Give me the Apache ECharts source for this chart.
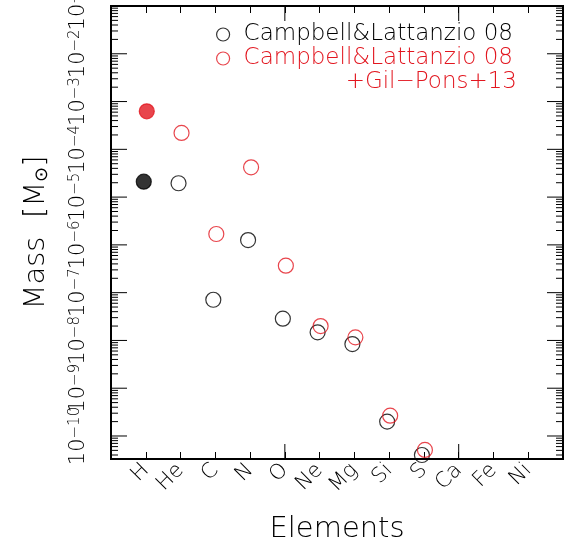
<!DOCTYPE html>
<html>
<head>
<meta charset="utf-8">
<script src="https://cdn.jsdelivr.net/npm/echarts@6/dist/echarts.min.js"></script>
<style>
  html, body { margin: 0; padding: 0; background: #fff; }
  #chart { width: 574px; height: 551px; }
</style>
</head>
<body>
<div id="chart"></div>
<script>
// Element names, placed at x = 1 .. 12
const elements = ['H', 'He', 'C', 'N', 'O', 'Ne', 'Mg', 'Si', 'S', 'Ca', 'Fe', 'Ni'];
// Ejected mass per element [M_sun]; null = no value
const massCL08 = [2.1e-5, 1.95e-5, 7.1e-8, 1.26e-6, 2.85e-8, 1.48e-8, 8.4e-9, 2.0e-10, 4.0e-11, null, null, null];
const massCL08GP13 = [6.25e-4, 2.2e-4, 1.69e-6, 4.2e-5, 3.67e-7, 2.0e-8, 1.16e-8, 2.66e-10, 5.1e-11, null, null, null];
// Axis ranges
const xMin = 0, xMax = 13;
const yMin = 3.3e-11, yMax = 1e-1;
// Decade exponents that get a labelled tick
const decadeExponents = [-10, -9, -8, -7, -6, -5, -4, -3, -2, -1];
// Positions of the longer x ticks
const xMajorTicks = [5, 10];

const RED = '#e2161f';
const FONT = 'DejaVu Sans';

function pointData(values, filledIndex, color) {
  const out = [];
  values.forEach((v, i) => {
    if (v == null) return;
    const item = { value: [i + 1, v] };
    if (i === filledIndex) item.itemStyle = { color: color, borderColor: color };
    out.push(item);
  });
  return out;
}

// Sub-decade tick values (m x 10^e) for the log axis
const yTickData = [];
for (let e = -11; e <= -1; e++) {
  for (let m = 1; m <= 9; m++) {
    const v = m * Math.pow(10, e);
    if (v >= yMin && v <= yMax * 1.000001) yTickData.push([xMin, v, m === 1 ? 1 : 0]);
  }
}

const chart = echarts.init(document.getElementById('chart'), null, { renderer: 'canvas' });

const option = {
  backgroundColor: '#fff',
  animation: false,
  textStyle: { fontFamily: FONT, fontWeight: 200 },
  grid: {
    left: 111, right: 11, top: 6, bottom: 92,
    outerBoundsMode: 'none',
    containLabel: false,
    show: true, borderColor: '#000', borderWidth: 2, backgroundColor: 'transparent'
  },
  legend: {
    orient: 'vertical',
    left: 216,
    top: 23,
    padding: 0,
    itemGap: 1,
    itemWidth: 31,
    itemHeight: 13,
    textStyle: { fontFamily: FONT, fontWeight: 200, fontSize: 23 },
    data: [
      { name: 'Campbell&Lattanzio 08', icon: 'circle',
        itemStyle: { color: 'transparent', borderColor: '#000', borderWidth: 1.2 },
        textStyle: { color: '#000' } },
      { name: 'Campbell&Lattanzio 08 ', icon: 'circle',
        itemStyle: { color: 'transparent', borderColor: RED, borderWidth: 1.2 },
        textStyle: { color: RED } }
    ]
  },
  graphic: [
    {
      type: 'text',
      right: 57,
      top: 71,
      style: { text: '+Gil\u2212Pons+13', fill: RED, font: '200 23px "DejaVu Sans"' }
    }
  ],
  xAxis: [
    {
      type: 'value', position: 'bottom', min: xMin, max: xMax, interval: 1,
      axisLine: { show: false },
      splitLine: { show: false },
      axisTick: { show: true, inside: true, length: 7, lineStyle: { color: '#000', width: 1 } },
      axisLabel: {
        show: true, rotate: 45, margin: 8, fontSize: 21, color: '#000',
        fontFamily: FONT, fontWeight: 200,
        formatter: (v) => elements[v - 1] || ''
      },
      name: 'Elements', nameLocation: 'middle', nameGap: 56,
      nameTextStyle: { fontSize: 29, color: '#000', fontFamily: FONT, fontWeight: 200 }
    },
    {
      type: 'value', position: 'top', min: xMin, max: xMax, interval: 1,
      axisLine: { show: false },
      splitLine: { show: false },
      axisTick: { show: true, inside: true, length: 7, lineStyle: { color: '#000', width: 1 } },
      axisLabel: { show: false }
    }
  ],
  yAxis: [
    {
      type: 'log', logBase: 10, min: yMin, max: yMax,
      axisLine: { show: false },
      splitLine: { show: false },
      axisTick: { show: false },
      axisLabel: {
        show: true, rotate: 90, margin: 22, color: '#000',
        formatter: (v) => {
          const lg = Math.log10(v);
          const e = Math.round(lg);
          if (Math.abs(lg - e) > 1e-6 || decadeExponents.indexOf(e) < 0) return '';
          return '{b|10}{s|\u2212' + (-e) + '}';
        },
        rich: {
          b: { fontSize: 21, fontFamily: FONT, fontWeight: 200, color: '#000' },
          s: { fontSize: 15, fontFamily: FONT, fontWeight: 200, color: '#000', verticalAlign: 'top' }
        }
      },
      name: 'Mass  [M{s|\u2299}]', nameLocation: 'middle', nameGap: 60,
      nameTextStyle: {
        fontSize: 29, color: '#000', fontFamily: FONT, fontWeight: 200,
        rich: { s: { fontSize: 18, fontFamily: FONT, color: '#000', verticalAlign: 'bottom', padding: [8, 0, 0, 0] } }
      }
    }
  ],
  series: [
    {
      name: 'Campbell&Lattanzio 08',
      type: 'scatter',
      symbol: 'circle',
      symbolSize: 15,
      symbolOffset: [-2, 0],
      itemStyle: { color: 'transparent', borderColor: '#000', borderWidth: 1.2 },
      data: pointData(massCL08, 0, '#000'),
      z: 3
    },
    {
      name: 'Campbell&Lattanzio 08 ',
      type: 'scatter',
      symbol: 'circle',
      symbolSize: 15,
      symbolOffset: [1, 0],
      itemStyle: { color: 'transparent', borderColor: RED, borderWidth: 1.2 },
      data: pointData(massCL08GP13, 0, RED),
      z: 4
    },
    {
      // tick marks on the left and right frame of the log axis
      type: 'custom',
      silent: true,
      clip: false,
      encode: { x: 0, y: 1 },
      data: yTickData,
      renderItem: (params, api) => {
        const v = api.value(1);
        const len = api.value(2) === 1 ? 16 : 7;
        const pl = api.coord([xMin, v]);
        const pr = api.coord([xMax, v]);
        const st = { stroke: '#000', lineWidth: 1 };
        return {
          type: 'group',
          children: [
            { type: 'line', shape: { x1: pl[0], y1: pl[1], x2: pl[0] + len, y2: pl[1] }, style: st },
            { type: 'line', shape: { x1: pr[0] - len, y1: pr[1], x2: pr[0], y2: pr[1] }, style: st }
          ]
        };
      },
      z: 5
    },
    {
      // longer x ticks on the bottom and top frame
      type: 'custom',
      silent: true,
      clip: false,
      encode: { x: 0 },
      data: xMajorTicks.map((x) => [x]),
      renderItem: (params, api) => {
        const x = api.value(0);
        const pb = api.coord([x, yMin]);
        const pt = api.coord([x, yMax]);
        const st = { stroke: '#000', lineWidth: 1 };
        return {
          type: 'group',
          children: [
            { type: 'line', shape: { x1: pb[0], y1: pb[1], x2: pb[0], y2: pb[1] - 15 }, style: st },
            { type: 'line', shape: { x1: pt[0], y1: pt[1], x2: pt[0], y2: pt[1] + 15 }, style: st }
          ]
        };
      },
      z: 5
    }
  ]
};

chart.setOption(option);
</script>
</body>
</html>
